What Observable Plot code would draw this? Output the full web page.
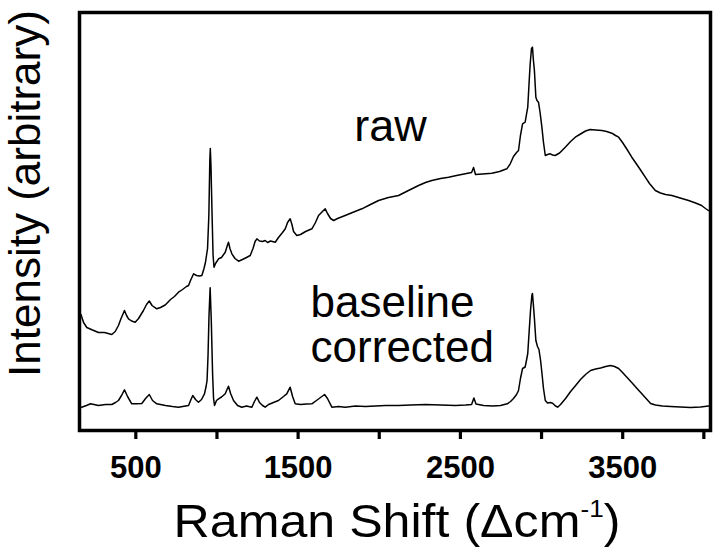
<!DOCTYPE html>
<html><head><meta charset="utf-8">
<script src="https://cdn.jsdelivr.net/npm/d3@7"></script>
<script src="https://cdn.jsdelivr.net/npm/@observablehq/plot@0.6"></script>
<style>body{margin:0;background:#fff}</style>
</head><body><div id="chart"></div>
<script>
// Raman shift (cm^-1) and intensity (arbitrary units)
const rawShift = [162,178,198,233,270,307,352,373,393,409,421,430,443,455,474,496,517,547,566,583,600,629,652,681,714,738,763,788,812,825,837,856,874,893,907,920,929,942,950,956,959,963,970,976,982,991,1010,1028,1051,1062,1071,1080,1092,1111,1133,1157,1182,1205,1222,1235,1246,1262,1281,1297,1312,1330,1359,1379,1404,1421,1435,1451,1462,1472,1492,1515,1546,1585,1607,1626,1644,1667,1681,1700,1719,1743,1790,1835,1893,1946,1996,2057,2119,2180,2242,2285,2324,2378,2427,2476,2530,2569,2581,2593,2636,2694,2741,2786,2807,2827,2846,2858,2870,2883,2899,2907,2915,2924,2930,2938,2944,2950,2956,2965,2972,2981,2991,3002,3012,3023,3037,3054,3068,3084,3111,3146,3179,3208,3240,3271,3300,3333,3372,3401,3433,3456,3475,3499,3527,3556,3585,3610,3639,3665,3701,3733,3764,3803,3844,3906,3949,3986,4010,4028];
const rawIntensity = [116,108,103,100.5,98,98,96,99,105,112,116.5,120,115,111.7,109.5,108.3,112,120,126,129.5,125,121.7,123,125.5,131,134,138.3,141,144,145,150,156.7,155,154.5,155,162,168,182,215,270,282,265,215,175,163.3,167,171.7,173,178.3,184,188.3,182,176.7,172,169.3,171,173,175,182,189,191.7,189.5,189,190,188,189.5,188.3,193,198,201.7,208,211.7,206,199,195,196,199,201.7,208,215,218,221.7,217,212,210,212,215,218,221.7,226,230,233,235,240,245,248,250,252,253.3,255,256.7,258,263,256,256.5,257.3,259,261.7,266.7,274,278,280,295,306.7,308.3,316,323.3,350,366.7,382,383.3,370,360,333.3,330,328.3,318,303.3,288,275,276,276.7,275.5,275,277.5,283.3,289,293.3,296.5,299.5,301,300.5,300,299,297.3,295,293.3,288,281,273.3,266.5,260.5,253.3,247,240,237.5,236,235,233,230,227.5,225,222,220];
const corrShift = [162,196,221,270,313,352,375,393,412,430,449,475,504,537,560,583,603,629,683,726,763,806,825,840,851,868,886,905,923,933,939,945,951,958,965,973,979,985,997,1010,1028,1051,1062,1071,1084,1102,1127,1153,1182,1215,1231,1246,1262,1281,1297,1318,1348,1379,1410,1430,1451,1466,1482,1515,1552,1585,1613,1638,1663,1681,1708,1749,1790,1854,1915,1977,2039,2119,2193,2285,2378,2470,2532,2569,2583,2596,2643,2698,2747,2789,2809,2827,2846,2858,2870,2883,2899,2907,2915,2924,2932,2941,2944,2950,2956,2965,2975,2984,2994,3002,3012,3023,3037,3054,3068,3086,3099,3117,3148,3179,3210,3240,3271,3302,3333,3364,3395,3425,3450,3475,3499,3530,3561,3591,3622,3647,3672,3702,3745,3795,3856,3918,3980,4029];
const corrIntensity = [23,25,26.7,25,26,26,28,30,35,40.7,34,26.7,26.7,27,32,36,30,26.7,25,24,23.3,24.5,25,31,35,31,28.3,31,36.7,44,50,75,115,142.7,110,57,32,25,30,31.7,33.5,36.7,41,44.3,37,30,25,23.3,24.5,23.3,29,33.3,28,25,23.3,26,28,30,34,36.7,43.3,34,26.7,26,26.5,26.7,30,33,36,32,23.3,24,23.3,24.5,24,24.5,25,25,25.5,26,25.5,25,25.5,26,32.5,26.5,25,24.5,25,26.7,29,32,36,40,52,62,63.5,70,77,100,120,136,137,125,112,90,84,81,70,58,42,30,27.5,28,27.3,24.5,23.3,26,32,39,45,51,56,60,61.5,62.5,64,65,64,62,58,52.5,47,41.5,36,31.5,27,25.5,24.5,24,23.5,23,23.5,24.5];
const xTicks = [500,1000,1500,2000,2500,3000,3500,4000];
const xTickLabels = [500,1500,2500,3500];
const seriesNames = ["raw", "baseline", "corrected"];
const xTitle = "Raman Shift (\u0394cm";
const xTitleSup = "-1";
const yTitle = "Intensity (arbitrary)";

const raw = rawShift.map((s, i) => ({shift: s, intensity: rawIntensity[i]}));
const corr = corrShift.map((s, i) => ({shift: s, intensity: corrIntensity[i]}));

const font = "'Liberation Sans', Arial, Helvetica, sans-serif";
const svg = Plot.plot({
  width: 720, height: 556,
  marginTop: 12, marginBottom: 126, marginLeft: 79, marginRight: 10,
  style: {fontFamily: font, background: "white", color: "black"},
  x: {domain: [153, 4041]},
  y: {domain: [0, 418], axis: null},
  marks: [
    Plot.line(raw, {x: "shift", y: "intensity", stroke: "black", strokeWidth: 1.5}),
    Plot.line(corr, {x: "shift", y: "intensity", stroke: "black", strokeWidth: 1.5}),
    Plot.frame({stroke: "black", strokeWidth: 3.5}),
    Plot.axisX({ticks: xTicks, tickSize: 9, tickPadding: 16, strokeWidth: 3.2,
      tickFormat: d => xTickLabels.includes(d) ? String(d) : "",
      fontSize: 31, fontWeight: "bold", label: null}),
    Plot.text([seriesNames[0]], {x: 1846, y: 290, text: d => d, textAnchor: "start", lineAnchor: "bottom", fontSize: 45, fill: "black"}),
    Plot.text([seriesNames[1]], {x: 1577, y: 113.5, text: d => d, textAnchor: "start", lineAnchor: "bottom", fontSize: 44, fill: "black"}),
    Plot.text([seriesNames[2]], {x: 1577, y: 68.3, text: d => d, textAnchor: "start", lineAnchor: "bottom", fontSize: 44, fill: "black"})
  ]
});
const s = d3.select(svg);
const xt = s.append("text").attr("transform", "translate(397,537) scale(1.09,1)").attr("text-anchor", "middle")
  .attr("font-size", 46).attr("fill", "black").style("font-family", font);
xt.append("tspan").text(xTitle);
xt.append("tspan").attr("dy", -20).attr("font-size", 24).text(xTitleSup);
xt.append("tspan").attr("dy", 20).text(")");
s.append("text").attr("transform", "translate(40,193.5) rotate(-90)").attr("text-anchor", "middle")
  .attr("font-size", 44).attr("fill", "black").style("font-family", font).text(yTitle);
document.getElementById("chart").appendChild(svg);
</script>
</body></html>
